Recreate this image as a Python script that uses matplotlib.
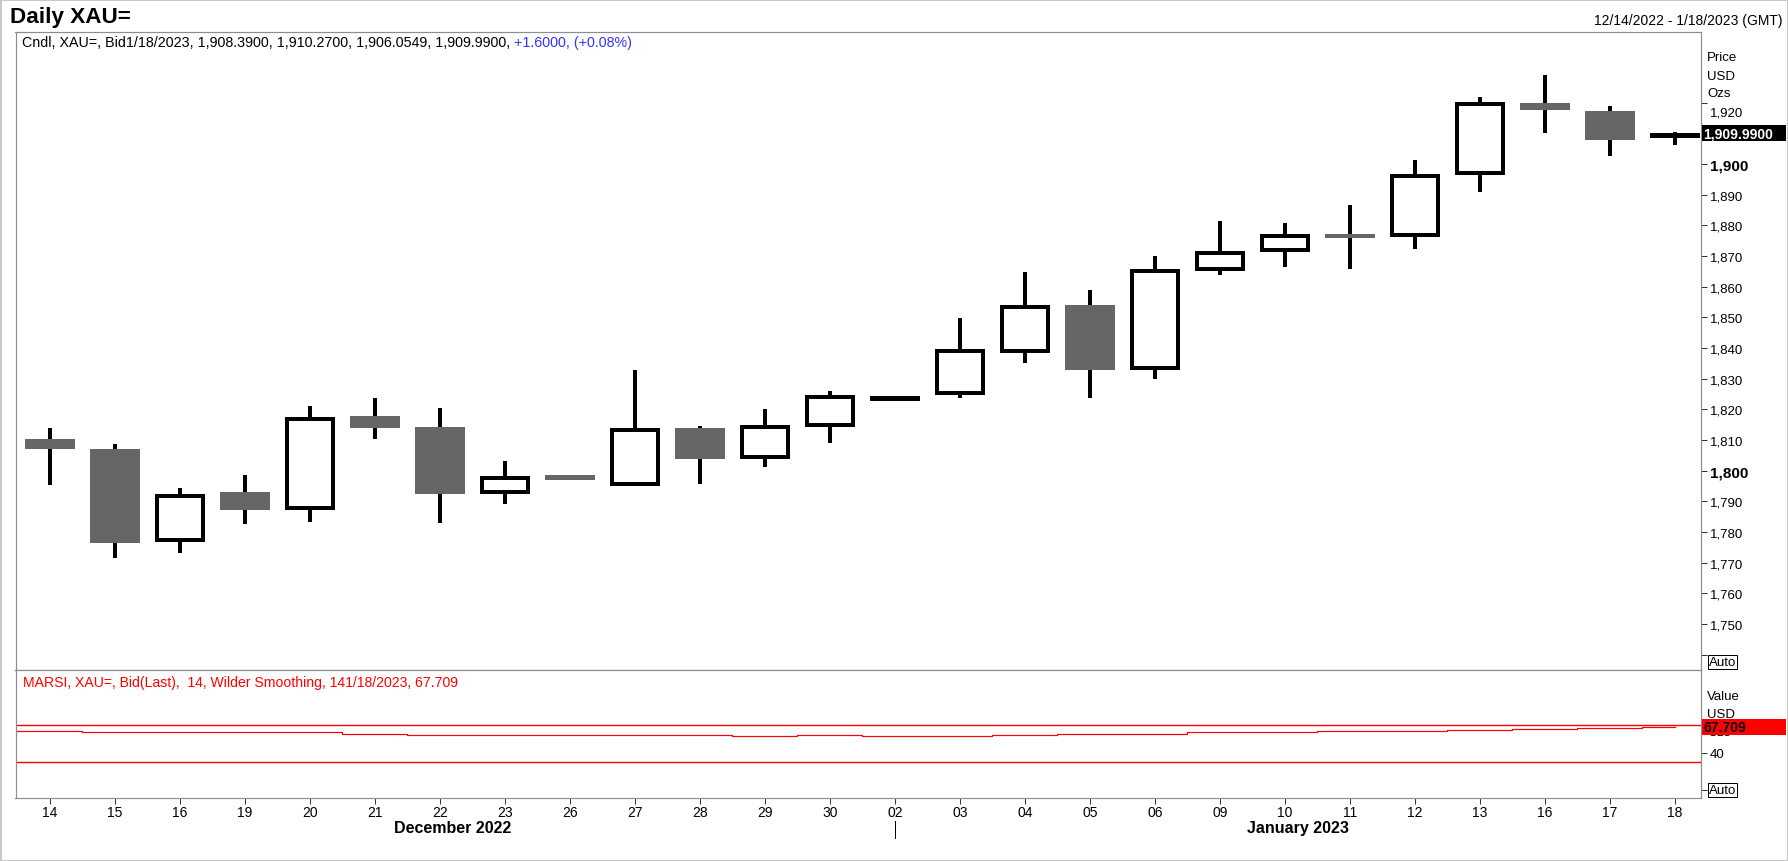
"""Daily XAU= candlestick chart with MARSI sub-panel."""

import numpy as np
import matplotlib

matplotlib.use("Agg")
import matplotlib.pyplot as plt
from matplotlib.patches import Rectangle
from matplotlib.transforms import ScaledTranslation, blended_transform_factory

plt.rcParams["font.family"] = ["Liberation Sans", "DejaVu Sans"]

# --- data --------------------------------------------------------------
day_labels = ["14", "15", "16", "19", "20", "21", "22", "23", "26", "27", "28", "29", "30",
              "02", "03", "04", "05", "06", "09", "10", "11", "12", "13", "16", "17", "18"]
month_of_day = ["December 2022"] * 13 + ["January 2023"] * 13

opens = [1810.3, 1807.1, 1776.6, 1793.1, 1787.3, 1817.8, 1814.2, 1792.5, 1798.6, 1795.1,
         1813.9, 1803.8, 1814.3, 1822.8, 1824.8, 1838.2, 1854.0, 1832.9, 1865.0, 1871.4,
         1877.2, 1876.1, 1896.5, 1920.0, 1917.1, 1908.39]
highs = [1813.9, 1808.7, 1794.4, 1798.6, 1821.1, 1823.7, 1820.4, 1803.2, 1798.6, 1832.8,
         1814.6, 1820.1, 1826.0, 1824.4, 1849.8, 1864.8, 1858.9, 1870.0, 1881.4, 1880.8,
         1886.6, 1901.3, 1921.8, 1929.0, 1918.9, 1910.27]
lows = [1795.4, 1771.5, 1773.3, 1782.7, 1783.4, 1810.4, 1783.0, 1789.2, 1797.1, 1795.1,
        1795.7, 1801.2, 1809.0, 1822.8, 1823.7, 1835.2, 1823.7, 1829.9, 1863.8, 1866.4,
        1865.8, 1872.3, 1890.9, 1910.1, 1902.6, 1906.05]
closes = [1807.2, 1776.5, 1792.4, 1787.3, 1817.4, 1814.0, 1792.5, 1798.1, 1797.1, 1813.9,
          1803.8, 1815.0, 1824.5, 1824.4, 1839.5, 1854.0, 1832.8, 1865.8, 1871.6, 1877.2,
          1876.0, 1896.7, 1920.3, 1917.6, 1907.8, 1909.99]

rsi = [63.2, 61.7, 61.7, 61.7, 61.7, 60.3, 59.2, 59.2, 59.2, 59.2, 59.2, 58.1, 59.2,
       58.1, 58.1, 59.2, 60.3, 60.3, 61.7, 61.7, 62.9, 63.5, 64.6, 65.8, 66.8, 67.709]
rsi_levels = [70, 30]

price_ticks = list(range(1740, 1930, 10))
rsi_ticks = [0, 40]
last_price = 1909.99
last_rsi = 67.709

# --- layout (pixel geometry of the reference) --------------------------
W, H, DPI = 1788, 862, 100
PX = 72.0 / DPI  # points per pixel
GRAY_BODY = "#666666"
FRAME = "#8c8c96"

fig = plt.figure(figsize=(W / DPI, H / DPI), dpi=DPI)


def frac(left, top, right, bottom):
    return [left / W, 1 - bottom / H, (right - left) / W, (bottom - top) / H]


def fy(y):
    return 1 - y / H


ax = fig.add_axes(frac(15.5, 33, 1701, 671))
axr = fig.add_axes(frac(15.5, 671, 1701, 799), sharex=ax)

xlim = (-0.53, 25.4)
ylim = (1735.0, 1943.0)
rlim = (-9.0, 129.0)
ax.set_xlim(*xlim)
ax.set_ylim(*ylim)
axr.set_ylim(*rlim)

for a in (ax, axr):
    for sp in a.spines.values():
        sp.set_color(FRAME)
        sp.set_linewidth(1.2 * PX)

px_x = (1701 - 15.5) / (xlim[1] - xlim[0])
px_y = (671 - 33) / (ylim[1] - ylim[0])
px_r = (799 - 671) / (rlim[1] - rlim[0])

# --- candles ------------------------------------------------------------
idx = np.arange(len(day_labels))
body_w = 0.78
lw_px = 4
hx = (lw_px / 2) / px_x
hy = (lw_px / 2) / px_y

ax.vlines(idx, lows, highs, color="black", linewidth=lw_px * PX, zorder=2,
          capstyle="butt")
for i, o, c in zip(idx, opens, closes):
    lo, hi = min(o, c), max(o, c)
    if c < o:
        ax.add_patch(Rectangle((i - body_w / 2, lo), body_w, hi - lo,
                               facecolor=GRAY_BODY, edgecolor="none", zorder=3))
    else:
        inner_h = max(hi - lo - 2 * hy, 0.02)
        ax.add_patch(Rectangle((i - body_w / 2 + hx, lo + hy), body_w - 2 * hx, inner_h,
                               facecolor="white", edgecolor="black",
                               linewidth=lw_px * PX, joinstyle="miter", zorder=3))

# --- price axis ---------------------------------------------------------
ax.yaxis.tick_right()
ax.set_yticks(price_ticks)
ax.set_yticklabels(["" if v in (1740, 1910) else f"{v:,}" for v in price_ticks])
ax.tick_params(axis="y", direction="out", length=6 * PX, width=1 * PX, color="#333333",
               pad=3 * PX, labelsize=9.5)
ax.tick_params(axis="x", bottom=False, labelbottom=False)
for lab, v in zip(ax.get_yticklabels(), price_ticks):
    if v % 100 == 0:
        lab.set_fontweight("bold")
        lab.set_fontsize(11)
    if v == max(price_ticks):
        lab.set_transform(lab.get_transform()
                          + ScaledTranslation(0, -8 / DPI, fig.dpi_scale_trans))

for txt, y in zip(["Price", "USD", "Ozs"], [58, 77, 94]):
    ax.text(1707 / W, fy(y), txt, transform=fig.transFigure, ha="left", va="center",
            fontsize=9.5, clip_on=False)
ax.text(1709 / W, fy(663), "Auto", transform=fig.transFigure, ha="left", va="center",
        fontsize=9.5, clip_on=False,
        bbox=dict(boxstyle="square,pad=0.08", fc="white", ec="black", lw=1 * PX))

tr_price = blended_transform_factory(fig.transFigure, ax.transData)
ax.add_patch(Rectangle((1702 / W, last_price - 8 / px_y), 84 / W, 16 / px_y,
                       transform=tr_price, facecolor="black", edgecolor="none",
                       clip_on=False, zorder=5))
ax.text(1703 / W, last_price, f"{last_price:,.4f}", transform=tr_price, ha="left",
        va="center", color="white", fontweight="bold", fontsize=10, clip_on=False,
        zorder=6)

t1 = ax.text(22 / W, fy(43), "Cndl, XAU=, Bid1/18/2023, 1,908.3900, 1,910.2700, "
             "1,906.0549, 1,909.9900, ", transform=fig.transFigure, ha="left",
             va="center", fontsize=10.3, clip_on=False)
ax.annotate("+1.6000, (+0.08%)", xy=(1, 0.5), xycoords=t1, ha="left", va="center",
            fontsize=10.3, color="#3333ff")

# --- MARSI panel ----------------------------------------------------------
xs = np.append(idx - 0.5, idx[-1])
ys = np.append(rsi, rsi[-1])
axr.step(xs, ys, where="post", color="red", linewidth=1.2 * PX, zorder=3)
for lvl in rsi_levels:
    axr.axhline(lvl, color="red", linewidth=1.4 * PX, zorder=2)

axr.yaxis.tick_right()
axr.set_yticks(rsi_ticks)
axr.set_yticklabels(["", "40"])
axr.tick_params(axis="y", direction="out", length=6 * PX, width=1 * PX, color="#333333",
                pad=3 * PX, labelsize=9.5)

for txt, y in zip(["Value", "USD", "Ozs"], [697, 715, 733]):
    axr.text(1707 / W, fy(y), txt, transform=fig.transFigure, ha="left", va="center",
             fontsize=9.5, clip_on=False, zorder=4)
axr.text(1709 / W, fy(791), "Auto", transform=fig.transFigure, ha="left", va="center",
         fontsize=9.5, clip_on=False, zorder=4,
         bbox=dict(boxstyle="square,pad=0.08", fc="white", ec="black", lw=1 * PX))

tr_rsi = blended_transform_factory(fig.transFigure, axr.transData)
axr.add_patch(Rectangle((1702 / W, last_rsi - 8 / px_r), 84 / W, 16 / px_r,
                        transform=tr_rsi, facecolor="red", edgecolor="none",
                        clip_on=False, zorder=5))
axr.text(1703 / W, last_rsi, f"{last_rsi:.3f}", transform=tr_rsi, ha="left",
         va="center", color="black", fontweight="bold", fontsize=10, clip_on=False,
         zorder=6)

axr.text(23 / W, fy(683), "MARSI, XAU=, Bid(Last),  14, Wilder Smoothing, "
         f"141/18/2023, {last_rsi:.3f}", transform=fig.transFigure, ha="left",
         va="center", fontsize=10.1, color="red", clip_on=False)

# --- date axis ------------------------------------------------------------
axr.set_xticks(idx)
axr.set_xticklabels(day_labels)
axr.tick_params(axis="x", direction="out", length=6 * PX, width=1 * PX, color="#333333",
                pad=1.5 * PX, labelsize=10)

tr_date = blended_transform_factory(axr.transData, fig.transFigure)
for month in dict.fromkeys(month_of_day):
    pos = np.mean([i for i, m in zip(idx, month_of_day) if m == month]) + 0.2
    axr.text(pos, fy(829), month, transform=tr_date, ha="center", va="center",
             fontsize=11.5, fontweight="bold", clip_on=False)
first_jan = month_of_day.index("January 2023")
axr.plot([first_jan, first_jan], [fy(822), fy(839)], transform=tr_date, color="black",
         linewidth=1 * PX, clip_on=False)

# --- headers ----------------------------------------------------------------
fig.text(10 / W, fy(23.5), "Daily XAU=", ha="left", va="baseline", fontsize=16.2,
         fontweight="bold")
fig.text(1783 / W, fy(21.5), "12/14/2022 - 1/18/2023 (GMT)", ha="right", va="center",
         fontsize=10)
fig.patches.append(Rectangle((0, 0), 1, 1, transform=fig.transFigure, fill=False,
                             edgecolor="#c8c8c8", linewidth=3 * PX))

fig.savefig("out.png", dpi=DPI)
